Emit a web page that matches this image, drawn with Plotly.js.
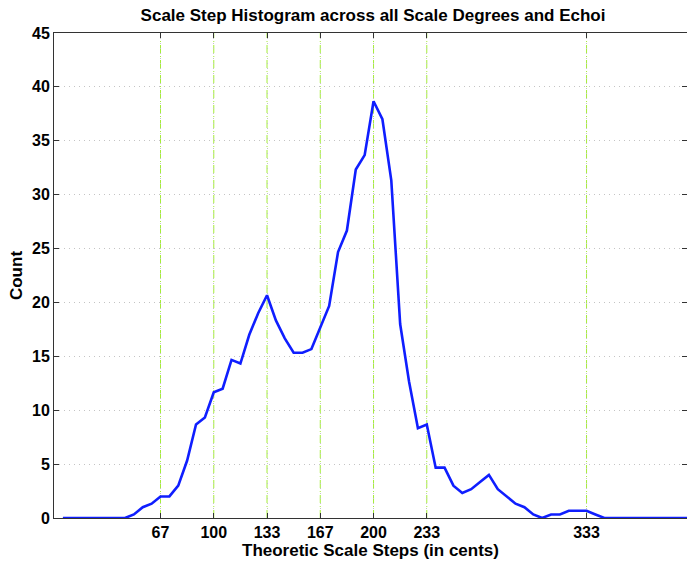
<!DOCTYPE html>
<html>
<head>
<meta charset="utf-8">
<script src="https://cdn.plot.ly/plotly-3.0.1.min.js"></script>
<style>html,body{margin:0;padding:0;background:#fff;}#chart{width:687px;height:561px;}</style>
</head>
<body>
<div id="chart"></div>
<script>
// bin width = 100/18 cents; bin index k = 1..72
const binWidth = 100 / 18;
const counts = [
  0, 0, 0, 0, 0, 0, 0, 0,               // k 1-8
  0.33, 1.0, 1.33, 2.0, 2.0, 3.0, 5.33, 8.67, // k 9-16
  9.33, 11.67, 12.0, 14.67, 14.33, 17.0, 19.0, 20.67, // k 17-24
  18.33, 16.67, 15.33, 15.33, 15.67, 17.67, 19.67, 24.67, // k 25-32
  26.67, 32.33, 33.67, 38.67, 37.0, 31.33, 18.0, 12.67, // k 33-40
  8.33, 8.67, 4.67, 4.67, 3.0, 2.33, 2.67, 3.33, // k 41-48
  4.0, 2.67, 2.0, 1.33, 1.0, 0.33, 0, 0.33, // k 49-56
  0.33, 0.67, 0.67, 0.67, 0.33, 0, 0, 0, // k 57-64
  0, 0, 0, 0, 0, 0, 0, 0                // k 65-72
];
const cents = counts.map((_, i) => (i + 1) * binWidth);
const tickVals = [200/3, 100, 400/3, 500/3, 200, 700/3, 1000/3];
const tickText = ["67", "100", "133", "167", "200", "233", "333"];
const yTicks = [0, 5, 10, 15, 20, 25, 30, 35, 40, 45];

const font = "Liberation Sans, Arial, sans-serif";
const shapes = tickVals.map(v => ({
  type: "line", xref: "x", yref: "paper", x0: v, x1: v, y0: 0, y1: 1,
  line: {color: "rgb(165,238,55)", width: 1, dash: "8px,3px,1px,3px"}, layer: "below"
}));

const data = [{
  x: cents, y: counts, type: "scatter", mode: "lines",
  line: {color: "rgb(15,30,255)", width: 2.6}, hoverinfo: "skip"
}];

const layout = {
  width: 687, height: 561,
  margin: {l: 54, r: 0, t: 33, b: 43, pad: 0},
  paper_bgcolor: "#fff", plot_bgcolor: "#fff",
  showlegend: false,
  title: {text: "<b>Scale Step Histogram across all Scale Degrees and Echoi</b>",
    font: {family: font, size: 17, color: "#000"}, x: 0.543, xanchor: "center", y: 0.973, yanchor: "middle"},
  xaxis: {
    range: [0, 396.2], tickmode: "array", tickvals: tickVals, ticktext: tickText,
    ticks: "inside", ticklen: 5, tickcolor: "#333",
    showline: true, linecolor: "#333", linewidth: 1, mirror: "ticks",
    showgrid: true, gridcolor: "#c4c4c4", griddash: "1px,4px", gridwidth: 1,
    zeroline: false,
    tickfont: {family: font, size: 16, color: "#000", weight: "bold"},
    title: {text: "<b>Theoretic Scale Steps (in cents)</b>", font: {family: font, size: 17, color: "#000"}, standoff: 3}
  },
  yaxis: {
    range: [0, 45], tickmode: "array", tickvals: yTicks,
    ticks: "inside", ticklen: 5, tickcolor: "#333",
    showline: true, linecolor: "#333", linewidth: 1, mirror: "ticks",
    showgrid: true, gridcolor: "#c4c4c4", griddash: "1px,4px", gridwidth: 1,
    zeroline: false,
    tickfont: {family: font, size: 16, color: "#000", weight: "bold"},
    title: {text: "<b>Count</b>", font: {family: font, size: 17, color: "#000"}, standoff: 5}
  },
  shapes: shapes
};

Plotly.newPlot("chart", data, layout, {displayModeBar: false, staticPlot: true});
</script>
</body>
</html>
